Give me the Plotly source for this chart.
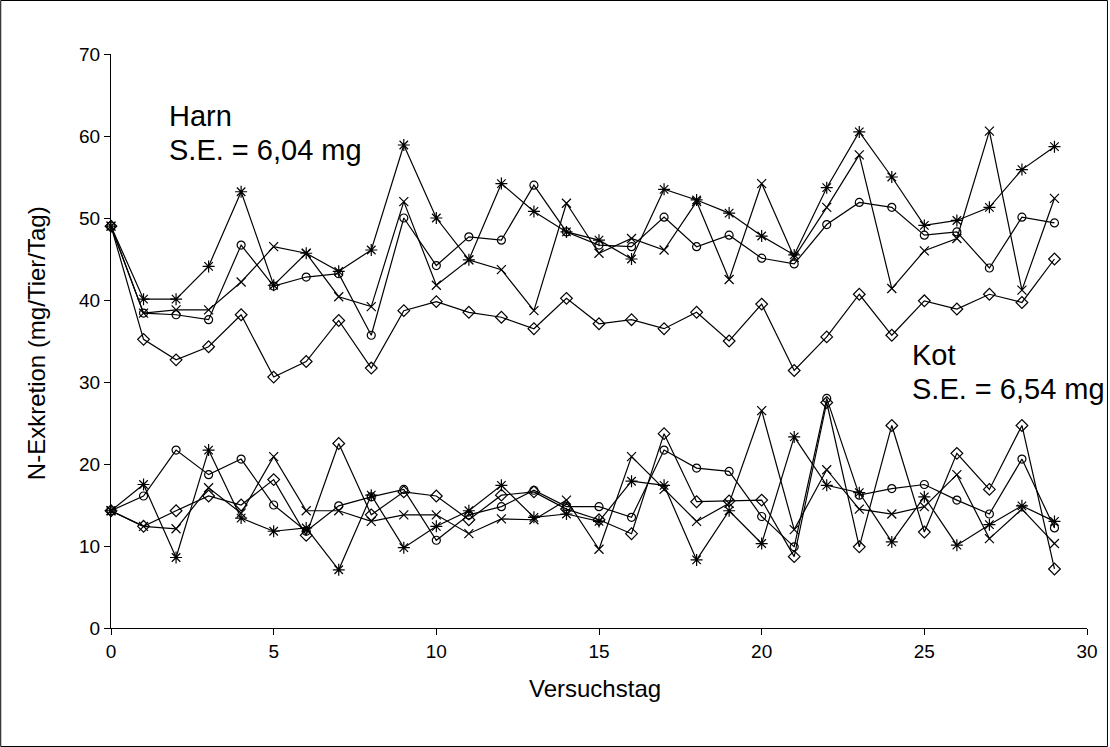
import plotly.graph_objects as go

days = list(range(30))

harn_star = [49.0, 40.1, 40.1, 44.1, 53.2, 41.8, 45.7, 43.5, 46.1, 58.9, 50.0, 44.9, 54.2, 50.8, 48.3,
             47.3, 45.0, 53.5, 52.2, 50.6, 47.8, 45.5, 53.7, 60.5, 55.0, 49.1, 49.7, 51.3, 55.9, 58.7]
harn_x = [49.0, 38.4, 38.8, 38.8, 42.2, 46.5, 45.7, 40.4, 39.2, 52.0, 41.8, 44.9, 43.7, 38.7, 51.8,
          45.7, 47.5, 46.1, 52.0, 42.5, 54.2, 45.2, 51.3, 57.7, 41.4, 46.0, 47.5, 60.6, 41.2, 52.4]
harn_circle = [49.0, 38.4, 38.2, 37.6, 46.7, 41.7, 42.8, 43.2, 35.7, 50.0, 44.2, 47.7, 47.3, 54.0, 48.3,
               46.7, 46.5, 50.1, 46.5, 47.9, 45.1, 44.4, 49.2, 51.9, 51.3, 47.9, 48.3, 43.9, 50.1, 49.4]
harn_diamond = [49.0, 35.2, 32.7, 34.3, 38.2, 30.6, 32.5, 37.5, 31.7, 38.7, 39.8, 38.5, 37.9, 36.5, 40.2,
                37.1, 37.6, 36.5, 38.5, 35.0, 39.5, 31.4, 35.5, 40.7, 35.7, 39.9, 38.9, 40.7, 39.7, 45.0]

kot_star = [14.3, 17.5, 8.6, 21.7, 13.4, 11.8, 12.2, 7.1, 16.2, 9.8, 12.4, 14.3, 17.4, 13.5, 13.9,
            13.0, 17.9, 17.4, 8.3, 14.3, 10.3, 23.3, 17.4, 16.5, 10.5, 16.0, 10.1, 12.6, 14.9, 13.0]
kot_x = [14.3, 12.4, 12.1, 17.1, 14.0, 20.9, 14.3, 14.3, 13.0, 13.8, 13.8, 11.5, 13.3, 13.2, 15.6,
         9.6, 20.9, 16.9, 13.0, 15.2, 26.5, 12.0, 19.3, 14.5, 13.9, 14.8, 18.7, 10.9, 14.5, 10.3]
kot_circle = [14.3, 16.1, 21.7, 18.7, 20.6, 15.0, 11.8, 14.9, 16.0, 16.9, 10.7, 13.8, 14.8, 16.8, 14.8,
              14.8, 13.5, 21.7, 19.5, 19.1, 13.6, 9.9, 28.0, 16.2, 17.0, 17.5, 15.6, 13.9, 20.6, 12.2]
kot_diamond = [14.3, 12.4, 14.3, 16.1, 15.0, 18.1, 11.3, 22.5, 13.8, 16.6, 16.1, 13.2, 16.2, 16.6, 14.5,
               13.2, 11.5, 23.7, 15.4, 15.5, 15.6, 8.7, 27.5, 9.9, 24.7, 11.7, 21.3, 16.9, 24.7, 7.2]

x_ticks = [0, 5, 10, 15, 20, 25, 30]
y_ticks = [0, 10, 20, 30, 40, 50, 60, 70]

FONT = "Arial, Liberation Sans, sans-serif"

series = [
    ("Harn *", harn_star, "asterisk-open", 10),
    ("Harn x", harn_x, "x-thin-open", 9),
    ("Harn o", harn_circle, "circle-open", 8),
    ("Harn ◇", harn_diamond, "diamond-open", 9),
    ("Kot *", kot_star, "asterisk-open", 10),
    ("Kot x", kot_x, "x-thin-open", 9),
    ("Kot o", kot_circle, "circle-open", 8),
    ("Kot ◇", kot_diamond, "diamond-open", 9),
]

fig = go.Figure()
for name, vals, sym, size in series:
    fig.add_trace(go.Scatter(
        x=days, y=vals, name=name, mode="lines+markers",
        line=dict(color="black", width=1.2),
        marker=dict(symbol=sym, size=size, color="black", line=dict(color="black", width=1.2)),
        showlegend=False, cliponaxis=False,
    ))

W, H = 1110, 747
L, R, T, B = 111, 21, 54, 119
pw, ph = W - L - R, H - T - B

def px_x(p):
    return (p - L) / pw

def px_y(p):
    return (H - B - p) / ph

fig.update_layout(
    width=W, height=H,
    margin=dict(l=L, r=R, t=T, b=B, pad=0),
    paper_bgcolor="white", plot_bgcolor="white",
    font=dict(family=FONT, color="black", size=19),
    xaxis=dict(range=[0, 30], tickvals=x_ticks, ticks="outside", ticklen=6, tickcolor="black",
               showline=True, linecolor="black", linewidth=1, showgrid=False, zeroline=False,
               tickfont=dict(size=19), title=None),
    yaxis=dict(range=[0, 70], tickvals=y_ticks, ticks="outside", ticklen=6, tickcolor="black",
               showline=True, linecolor="black", linewidth=1, showgrid=False, zeroline=False,
               tickfont=dict(size=19), title=None),
    shapes=[dict(type="rect", xref="paper", yref="paper",
                 x0=px_x(0.5), x1=px_x(W - 0.5), y0=px_y(H - 0.5), y1=px_y(0.5),
                 line=dict(color="black", width=1), layer="above")],
)

ann = [
    ("Harn", 167, 116),
    ("S.E. = 6,04 mg", 167, 150),
    ("Kot", 912, 355),
    ("S.E. = 6,54 mg", 912, 389),
]
for txt, px, py in ann:
    fig.add_annotation(text=txt, xref="paper", yref="paper", x=px_x(px), y=px_y(py),
                       xanchor="left", yanchor="middle", showarrow=False,
                       font=dict(size=29, family=FONT, color="black"))

fig.add_annotation(text="Versuchstag", xref="paper", yref="paper", x=px_x(596), y=px_y(688),
                   xanchor="center", yanchor="middle", showarrow=False,
                   font=dict(size=24, family=FONT, color="black"))
fig.add_annotation(text="N-Exkretion (mg/Tier/Tag)", xref="paper", yref="paper", x=px_x(36), y=px_y(343),
                   xanchor="center", yanchor="middle", showarrow=False, textangle=-90,
                   font=dict(size=24, family=FONT, color="black"))

fig.write_html("out.html")
